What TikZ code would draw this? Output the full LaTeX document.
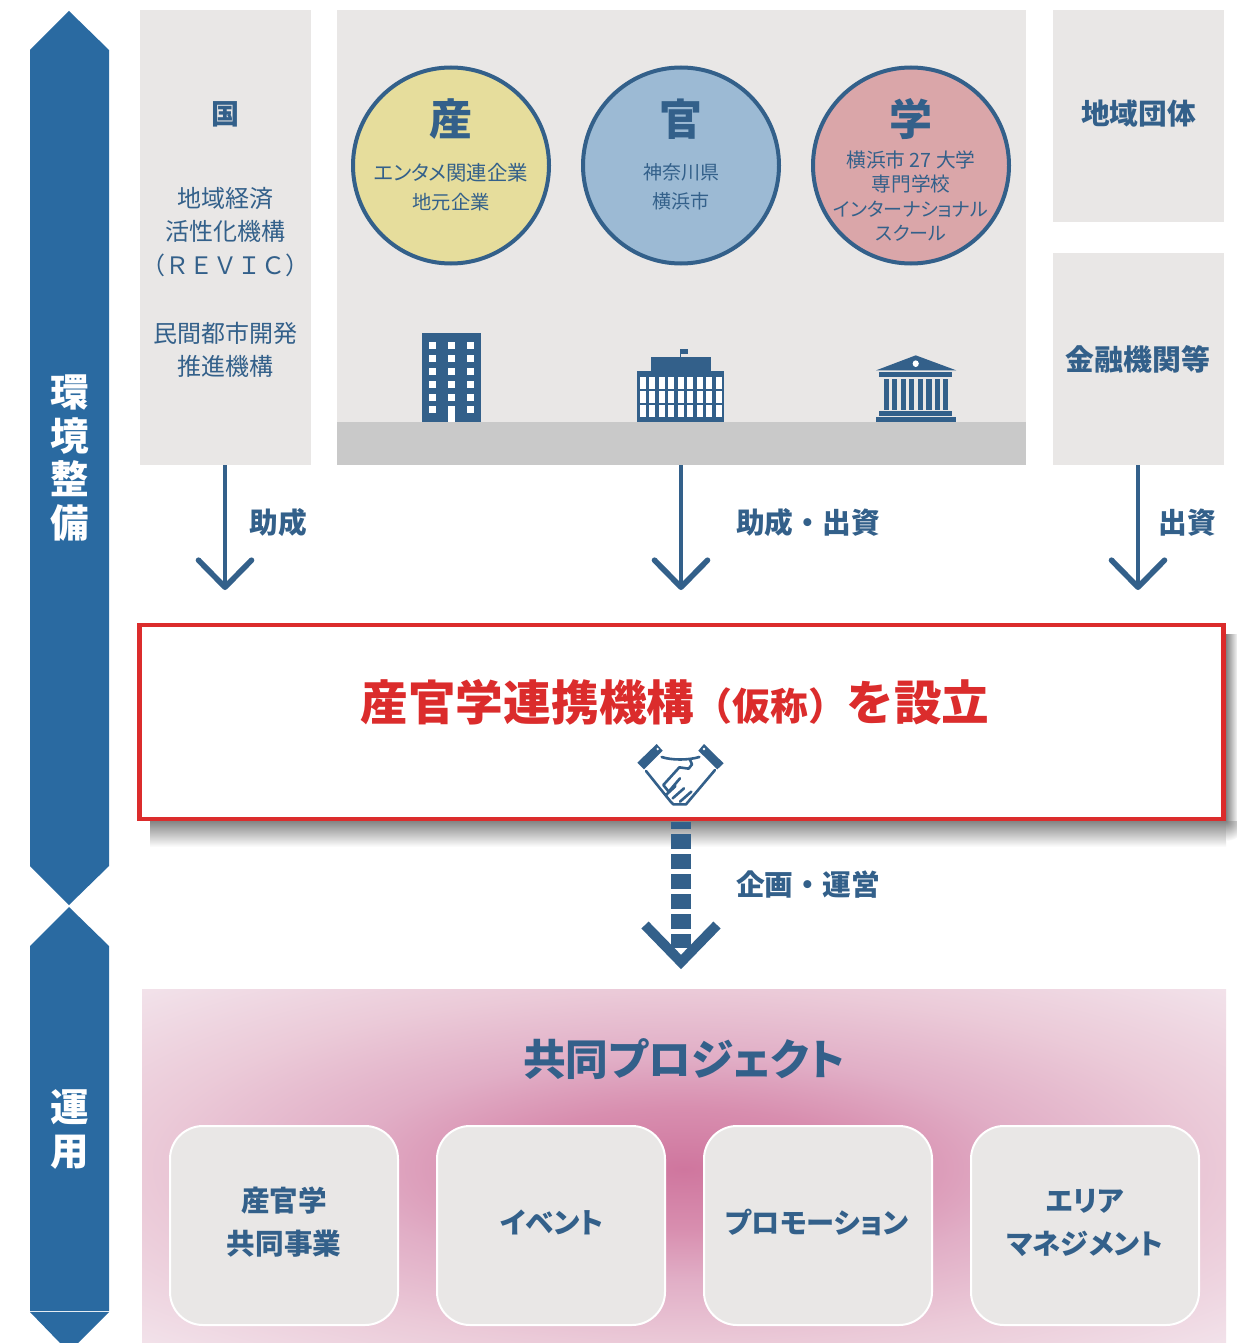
\documentclass[tikz,border=0pt]{standalone}
\usepackage{fontspec}
\setmainfont{Noto Sans CJK JP}[RawFeature=+palt]
\newfontfamily\full{Noto Sans CJK JP}
\newcommand{\jpb}{\bfseries}
\usetikzlibrary{arrows.meta}
\definecolor{navy}{HTML}{33608A}
\definecolor{side}{HTML}{2A6AA1}
\definecolor{panelgray}{HTML}{E9E7E6}
\definecolor{ground}{HTML}{C9C9C9}
\definecolor{redb}{HTML}{DB2C2C}
\definecolor{sanc}{HTML}{E6DD9C}
\definecolor{kanc}{HTML}{9CBAD4}
\definecolor{gakc}{HTML}{DAA6A9}
\definecolor{pink0}{HTML}{CF769E}
\definecolor{pink1}{HTML}{D88EAF}
\definecolor{pink2}{HTML}{E1AEC6}
\definecolor{pink3}{HTML}{EBCAD8}
\definecolor{pink4}{HTML}{F2E2EA}
\pgfdeclareradialshading{pinkglow}{\pgfpoint{0bp}{-0.4bp}}{
 color(0bp)=(pink0); color(8.5bp)=(pink1); color(15.7bp)=(pink2); color(25bp)=(pink3); color(35.4bp)=(pink4); color(50bp)=(pink4)}
\newcommand{\fs}[2]{\fontsize{#1}{#2}\selectfont}
\tikzset{
 x=1pt,y=-1pt,
 panelbox/.style={fill=panelgray,draw=none,anchor=north west,inner sep=0pt,outer sep=0pt},
 circ/.style={circle,draw=navy,line width=4pt,minimum size=196pt,inner sep=0pt},
 lab/.style={text=navy,align=center,inner sep=0pt},
 labb/.style={text=navy,align=center,inner sep=0pt,font=\full\jpb\fs{28.7}{34}},
 side text/.style={text=white,font=\jpb\fs{38.5}{44},align=center,inner sep=0pt},
 cardbox/.style={fill=panelgray,draw=white,line width=2pt,rounded corners=33pt,anchor=north west,minimum width=228pt,minimum height=199pt,inner sep=0pt},
 cardtext/.style={text=navy,align=center,inner sep=0pt,font=\jpb\fs{28.6}{43}},
 flow/.style={draw=navy,line width=4.4pt,-{Straight Barb[length=27pt,width=53pt,line width=5.6pt,round=false]}},
 icon/.style={fill=navy,draw=none},
}
\begin{document}
\begin{tikzpicture}
\useasboundingbox (0,0) rectangle (1236,1343);
\fill[white] (0,0) rectangle (1236,1343);
% side bars
\fill[side] (69,11) -- (109,50) -- (109,866) -- (69,905) -- (30,866) -- (30,50) -- cycle;
\fill[side] (69,907) -- (109,946) -- (109,1311) -- (30,1311) -- (30,946) -- cycle;
\fill[side] (30,1312) -- (109,1312) -- (78,1343) -- (60,1343) -- cycle;
\node[side text] (sa) at (69.5,458) {環\\[-.5pt]境\\[-.5pt]整\\[-.5pt]備};
\node[side text] (sb) at (69.5,1129) {運\\[0pt]用};
% top panels
\node[panelbox,minimum width=171pt,minimum height=455pt] (kuni) at (140,10) {};
\node[panelbox,minimum width=689pt,minimum height=455pt] (mid) at (337,10) {};
\fill[ground] (337,422) rectangle (1026,465);
\node[panelbox,minimum width=171pt,minimum height=212pt] (chiiki) at (1053,10) {};
\node[panelbox,minimum width=171pt,minimum height=212pt] (kinyu) at (1053,253) {};
\node[lab,font=\jpb\fs{28.7}{34}] (chiikit) at (1138.5,114) {地域団体};
\node[lab,font=\jpb\fs{28.9}{34}] (kinyut) at (1138,359) {金融機関等};
\node[lab,font=\jpb\fs{28}{33.6}] (kunit) at (225,114) {国};
\node[lab,font=\fs{24}{33.6}] (revic) at (225,232) {地域経済\\活性化機構\\{\full （ＲＥＶＩＣ）}};
\node[lab,font=\fs{24}{33.6}] (minkan) at (225,350) {民間都市開発\\推進機構};
% circles
\node[circ,fill=sanc] (san) at (451,165.5) {};
\node[circ,fill=kanc] (kan) at (681,165.5) {};
\node[circ,fill=gakc] (gaku) at (911,165.5) {};
\node[lab,font=\jpb\fs{43}{46}] (sant) at (451,119.5) {産};
\node[lab,font=\jpb\fs{43}{46}] (kant) at (681,119.5) {官};
\node[lab,font=\jpb\fs{43}{46}] (gakut) at (911,119.5) {学};
\node[lab,font=\fs{20.4}{29}] (sans) at (451,187) {エンタメ関連企業\\{\fs{19.3}{29}地元企業}};
\node[lab,font=\fs{19}{29}] (kans) at (681,187) {神奈川県\\横浜市};
\node[lab,font=\fs{19.7}{24.2}] (gakus) at (911,196) {横浜市 27 大学\\専門学校\\{\fs{19}{24.2}インターナショナル}\\{\fs{19}{24.2}スクール}};
% building
\begin{scope}[shift={(340.2,310)},x=.44pt,y=-.3333pt]
 \fill[icon] (186,69) rectangle (320,336);
 \foreach \xa in {202,245,289}
  \foreach \ya/\yb in {96/117,135/156,174/195,213/234,252/273}
   \fill[white] (\xa,\ya) rectangle (\xa+16,\yb);
 \fill[white] (202,288) rectangle (218,309);
 \fill[white] (289,288) rectangle (305,309);
 \fill[white] (245,288) rectangle (261,336);
 % school
 \fill[icon] (675,183) rectangle (873,336);
 \fill[icon] (707,141) rectangle (843,183);
 \fill[icon] (772,117) rectangle (775,141);
 \fill[icon] (775,117) rectangle (791,132);
 \foreach \ya/\yb in {201/237,243/279,285/321}
  \foreach \xa/\xb in {682/695,702/716,725/738,745/759,768/782,789/802,811/825,832/845,854/868}
   \fill[white] (\xa,\ya) rectangle (\xb,\yb);
 % bank
 \fill[icon] (1218,181) -- (1308,136) -- (1400,181) -- cycle;
 \fill[white] (1308,161) ellipse[x radius=7,y radius=10];
 \fill[icon] (1225,186) rectangle (1391,201);
 \foreach \xa in {1236,1254,1275,1293,1313,1332,1352,1370}
  \fill[icon] (\xa,207) rectangle (\xa+12,300);
 \fill[icon] (1225,303) rectangle (1391,318);
 \fill[icon] (1218,321) rectangle (1400,336);
\end{scope}
% arrows
\coordinate (a1) at (225,590);
\coordinate (a2) at (681,590);
\coordinate (a3) at (1138,590);
\coordinate (kunib) at (225,465);
\coordinate (midb) at (681,465);
\draw[flow] (kunib) -- (a1);
\draw[flow] (midb) -- (a2);
\draw[flow] (kinyu.south -| a3) -- (a3);
\node[labb] (l1) at (278.5,523) {助成};
\node[labb] (l2) at (808,523) {助成・出資};
\node[labb] (l3) at (1187,523) {出資};
% red box shadow
\shade[top color=black!48,middle color=black!12,bottom color=white] (150,821) rectangle (1226,847);
\shade[left color=black!48,middle color=black!14,right color=white] (1226,634) rectangle (1238,821);
\begin{scope}
 \clip (1226,821) rectangle (1250,850);
 \shade[inner color=black!48,middle color=black!12,outer color=white] (1226,821) circle[radius=20];
\end{scope}
% red box
\node[draw=redb,fill=white,line width=4.6pt,anchor=north west,minimum width=1084.1pt,minimum height=194pt,inner sep=0pt] (org) at (137.3,622.7) {};
\node[inner sep=0pt,text=redb,font=\full\jpb\fs{47.7}{50}] (orgt) at (675,702) {産官学連携機構{\fs{38}{50}（仮称）}を設立};
% handshake
\begin{scope}[shift={(620,730)},x=.3333pt,y=-.3333pt]
 \fill[icon] (110,42) -- (128,62) -- (72,118) -- (52,98) -- cycle;
 \fill[icon] (252,42) -- (311,100) -- (292,118) -- (235,62) -- cycle;
 \fill[white] (113,57) circle[radius=4];
 \fill[white] (252,57) circle[radius=4];
\end{scope}
\begin{scope}[shift={(630,735)},x=.3333pt,y=-.3333pt]
 \draw[navy,line width=2.6pt,line join=round,line cap=round]
   (95,66) .. controls (125,76) and (175,76) .. (208,66)
   (48,108) -- (122,200) -- (130,208) -- (168,208) -- (255,105)
   (180,74) -- (186,88) -- (176,101) -- (148,97) -- (100,150) -- (116,170) -- (150,130)
   (110,178) -- (136,154)
   (128,190) -- (162,160)
   (150,200) -- (184,170);
\end{scope}
% dashed arrow
\coordinate (oa) at (681,970);
\draw[navy,line width=19.4pt,dash pattern=on 15pt off 5pt,dash phase=8pt] (org.south -| oa) ++(0,1) -- (681,948);
\draw[navy,line width=10pt,miter limit=10] (645,925) -- (681,962) -- (717,925);
\node[labb] (l4) at (808,885) {企画・運営};
% pink panel
\shade[shading=pinkglow] (142,989) rectangle (1226,1343);
\node[lab,font=\jpb\fs{42.7}{50}] (kyodo) at (684,1059) {共同プロジェクト};
\node[cardbox] (c1) at (169,1125) {};
\node[cardbox] (c2) at (436,1125) {};
\node[cardbox] (c3) at (703,1125) {};
\node[cardbox] (c4) at (970,1125) {};
\node[cardtext] (c1t) at (284,1222) {産官学\\共同事業};
\node[cardtext] (c2t) at (552,1222) {イベント};
\node[cardtext,font=\jpb\fs{28.2}{43}] (c3t) at (817,1222) {プロモーション};
\node[cardtext,font=\jpb\fs{28.2}{43}] (c4t) at (1085,1223) {エリア\\マネジメント};
\end{tikzpicture}
\end{document}
